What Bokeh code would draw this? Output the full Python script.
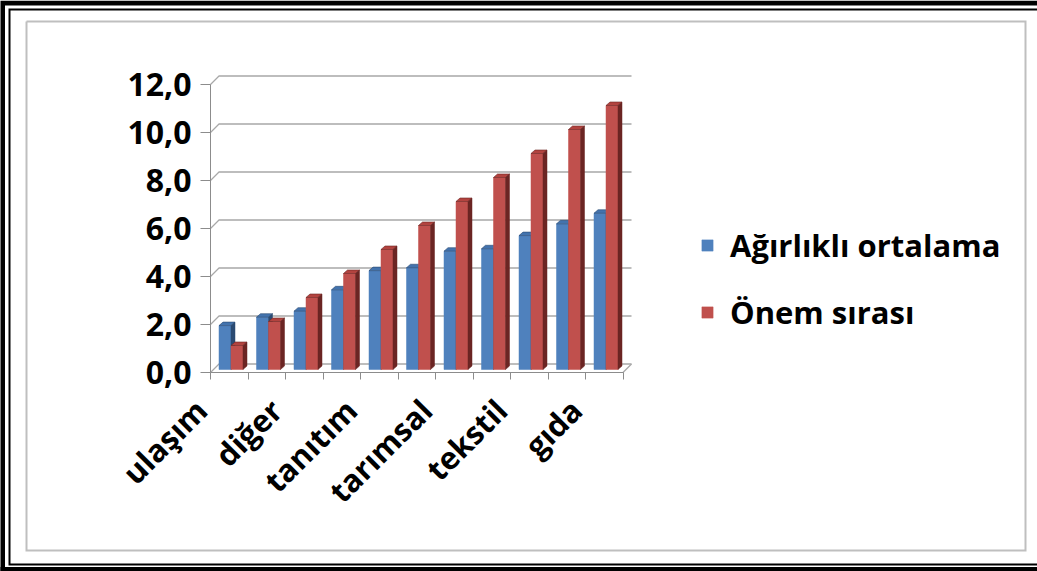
import math
from bokeh.plotting import figure
from bokeh.models import Range1d, FixedTicker, Legend, LegendItem
from bokeh.embed import file_html
from bokeh.resources import INLINE

# ---- data ----
shown_labels = {0: "ulaşım", 2: "diğer", 4: "tanıtım", 6: "tarımsal", 8: "tekstil", 10: "gıda"}
agirlikli = [1.83, 2.18, 2.43, 3.32, 4.12, 4.24, 4.93, 5.03, 5.58, 6.07, 6.51]
onem = [1, 2, 3, 4, 5, 6, 7, 8, 9, 10, 11]
y_ticks = [0, 2, 4, 6, 8, 10, 12]
series_names = ["Ağırlıklı ortalama", "Önem sırası"]

# ---- styling ----
FONT = "Open Sans"
BLUE, BLUE_TOP, BLUE_SIDE = "#4f81bd", "#4373ad", "#2a4a72"
RED, RED_TOP, RED_SIDE = "#c0504d", "#b2433f", "#6b2523"
GRID = "#a8a8a8"
AXIS = "#8c8c8c"

W, H = 1037, 571
FL, FB = 210, 372          # pixel position of the front axes corner
PXX, PXY = 37.5, 24.0      # pixels per category / per value unit
x0 = 0.5


def px2x(px):
    return x0 + (px - FL) / PXX


def py2y(py):
    return (FB - py) / PXY


# 3D depth offsets (data units)
wdx, wdy = 8.5 / PXX, 8.5 / PXY             # back wall
base = 3.0 / PXY                            # bars stand at mid depth
bw = 12.0 / PXX                             # bar front width
sdx, sdy = 4.0 / PXX, 3.5 / PXY             # bar depth
lead = 8.5 / PXX

# the plot frame spans the whole canvas; axes are pinned inside it
p = figure(width=W, height=H,
           x_range=Range1d(px2x(0), px2x(W)), y_range=Range1d(py2y(H), py2y(0)),
           output_backend="svg", toolbar_location=None, title=None,
           min_border=0, min_border_left=0, min_border_right=0,
           min_border_top=0, min_border_bottom=0)
p.outline_line_color = None
p.xgrid.visible = False
p.ygrid.visible = False
p.background_fill_color = "white"
p.border_fill_color = "white"

n = len(onem)
xs_cat = list(range(1, n + 1))

# ---- page frame: double black rule and light grey chart border ----
p.multi_line([[px2x(2), px2x(2), px2x(W + 20)], [px2x(-20), px2x(W + 20)]],
             [[py2y(H + 20), py2y(2.5), py2y(2.5)], [py2y(569), py2y(569)]],
             line_color="black", line_width=5, line_join="miter")
p.multi_line([[px2x(W + 20), px2x(9), px2x(9), px2x(W + 20)]],
             [[py2y(9), py2y(9), py2y(564), py2y(564)]],
             line_color="black", line_width=2, line_join="miter")
p.multi_line([[px2x(26), px2x(1025), px2x(1025), px2x(26), px2x(26)]],
             [[py2y(21), py2y(21), py2y(550), py2y(550), py2y(21)]],
             line_color="#bfbfbf", line_width=2, line_join="miter")

# back wall gridlines with the short diagonals to the front axis
gx, gy = [], []
for v in y_ticks:
    gx.append([x0, x0 + wdx, x0 + n + wdx])
    gy.append([v, v + wdy, v + wdy])
p.multi_line(gx, gy, line_color=GRID, line_width=1.3)
# right end of the floor
p.line([x0 + n, x0 + n + wdx], [0, wdy], line_color=GRID, line_width=1.3)


def bar(c, left, val, front, top, side):
    l, r = c - 0.5 + left, c - 0.5 + left + bw
    t = val + base
    rend = p.quad(left=[l], right=[r], bottom=[base], top=[t], fill_color=front,
                  line_color=front, line_width=0.5)
    p.patch([l, r, r + sdx, l + sdx], [t, t, t + sdy, t + sdy],
            fill_color=top, line_color=side, line_width=0.6)
    p.patch([r, r + sdx, r + sdx, r], [base, base + sdy, t + sdy, t],
            fill_color=side, line_color=side, line_width=0.5)
    return rend


rb = rr = None
for i, c in enumerate(xs_cat):
    rb = bar(c, lead, agirlikli[i], BLUE, BLUE_TOP, BLUE_SIDE)
    rr = bar(c, lead + bw, onem[i], RED, RED_TOP, RED_SIDE)

# ---- axes ----
ya = p.yaxis[0]
ya.fixed_location = x0
ya.ticker = FixedTicker(ticks=y_ticks)
ya.major_label_overrides = {v: f"{v:.1f}".replace(".", ",") for v in y_ticks}
ya.bounds = (0, 12)
ya.axis_line_color = AXIS
ya.major_tick_line_color = AXIS
ya.major_tick_out = 10
ya.major_tick_in = 0
ya.minor_tick_out = 0
ya.minor_tick_in = 0
ya.major_label_standoff = 9
ya.major_label_text_font = FONT
ya.major_label_text_font_style = "bold"
ya.major_label_text_font_size = "32px"
ya.major_label_text_color = "black"

xa = p.xaxis[0]
xa.fixed_location = 0
label_pos = [x0 + k - 0.25 for k in shown_labels]
xa.ticker = FixedTicker(ticks=label_pos, minor_ticks=[x0 + k for k in range(n + 1)])
xa.major_label_overrides = {x0 + k - 0.25: t for k, t in shown_labels.items()}
xa.bounds = (x0, x0 + n)
xa.axis_line_color = AXIS
xa.minor_tick_line_color = AXIS
xa.major_tick_out = 0
xa.major_tick_in = 0
xa.minor_tick_out = 7
xa.minor_tick_in = 0
xa.major_label_standoff = 25
xa.major_label_orientation = math.pi / 4
xa.major_label_text_font = FONT
xa.major_label_text_font_style = "bold"
xa.major_label_text_font_size = "31px"
xa.major_label_text_color = "black"

# ---- legend ----
for r, name, ymid in [(rb, series_names[0], 247), (rr, series_names[1], 314)]:
    lg = Legend(items=[LegendItem(label=name, renderers=[r])],
                location=(700, H - ymid - 18.6),
                glyph_width=14, glyph_height=14, label_height=14,
                label_standoff=16, padding=0, margin=0, spacing=0,
                border_line_color=None, background_fill_alpha=0,
                label_text_font=FONT, label_text_font_style="bold",
                label_text_font_size="31px", label_text_color="black",
                label_text_baseline="middle")
    p.add_layout(lg, "center")

open("out.html", "w").write(file_html(p, INLINE))
